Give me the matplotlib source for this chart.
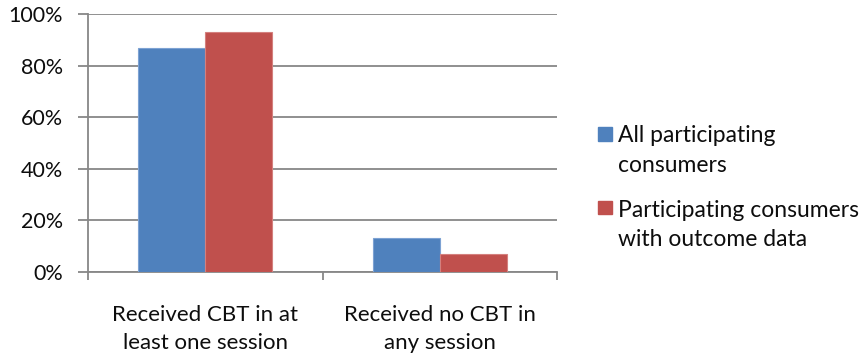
import matplotlib
matplotlib.use("Agg")
import matplotlib.pyplot as plt
from matplotlib.patches import Rectangle
import numpy as np

categories = ["Received CBT in at\nleast one session", "Received no CBT in\nany session"]
series_names = ["All participating\nconsumers", "Participating consumers\nwith outcome data"]
all_consumers = [87, 13]
with_outcome = [93, 7]
y_ticks = [0, 20, 40, 60, 80, 100]
y_tick_labels = ["0%", "20%", "40%", "60%", "80%", "100%"]

colors = ["#4F81BD", "#C0504D"]
edges = ["#7DA2D3", "#D4807E"]
grid_color = "#878787"
text_color = "#0d0d0d"

plt.rcParams["font.family"] = ["Lato", "DejaVu Sans"]

W, H = 867, 356
fig = plt.figure(figsize=(W / 100, H / 100), dpi=100)
ax = fig.add_axes([88 / W, 1 - 272 / H, (557 - 88) / W, (272 - 14) / H])

x = np.arange(len(categories))
bw = 0.286
for i, (vals, c, e) in enumerate(zip([all_consumers, with_outcome], colors, edges)):
    ax.bar(x + (i - 0.5) * bw, vals, width=bw, color=c, edgecolor=e,
           linewidth=0.8, zorder=3)

ax.set_xlim(-0.5, len(categories) - 0.5)
ax.set_ylim(0, 100)
ax.set_yticks(y_ticks)
ax.set_yticklabels(y_tick_labels, fontsize=15.5, color=text_color)
ax.yaxis.grid(True, color=grid_color, linewidth=1.3, zorder=0)

# category boundaries carry the x tick marks; names sit between them
ax.set_xticks(np.arange(len(categories) + 1) - 0.5)
ax.set_xticklabels([])
ax.tick_params(axis="x", length=6, width=1.3, color=grid_color, direction="out")
ax.tick_params(axis="y", length=7, width=1.3, color=grid_color, direction="out", pad=11)
for xi, name in zip(x, categories):
    x_fig = fig.transFigure.inverted().transform(ax.transData.transform((xi, 0)))[0]
    fig.text(x_fig, 1 - 305 / H, name, ha="center", va="top",
             fontsize=16, color=text_color, linespacing=1.53)

for side in ["top", "right"]:
    ax.spines[side].set_visible(False)
for side in ["left", "bottom"]:
    ax.spines[side].set_color(grid_color)
    ax.spines[side].set_linewidth(1.3)

# legend: square marker aligned with the first line of each label
legend_rows = [(127.5, 125), (201.5, 200)]
for (sq_top, text_top), name, c in zip(legend_rows, series_names, colors):
    fig.patches.append(Rectangle((598 / W, 1 - (sq_top + 13) / H), 14 / W, 13 / H,
                                 transform=fig.transFigure, color=c))
    fig.text(618 / W, 1 - text_top / H, name, ha="left", va="top",
             fontsize=16.5, color=text_color, linespacing=1.5)

fig.savefig("out.png", dpi=100)
